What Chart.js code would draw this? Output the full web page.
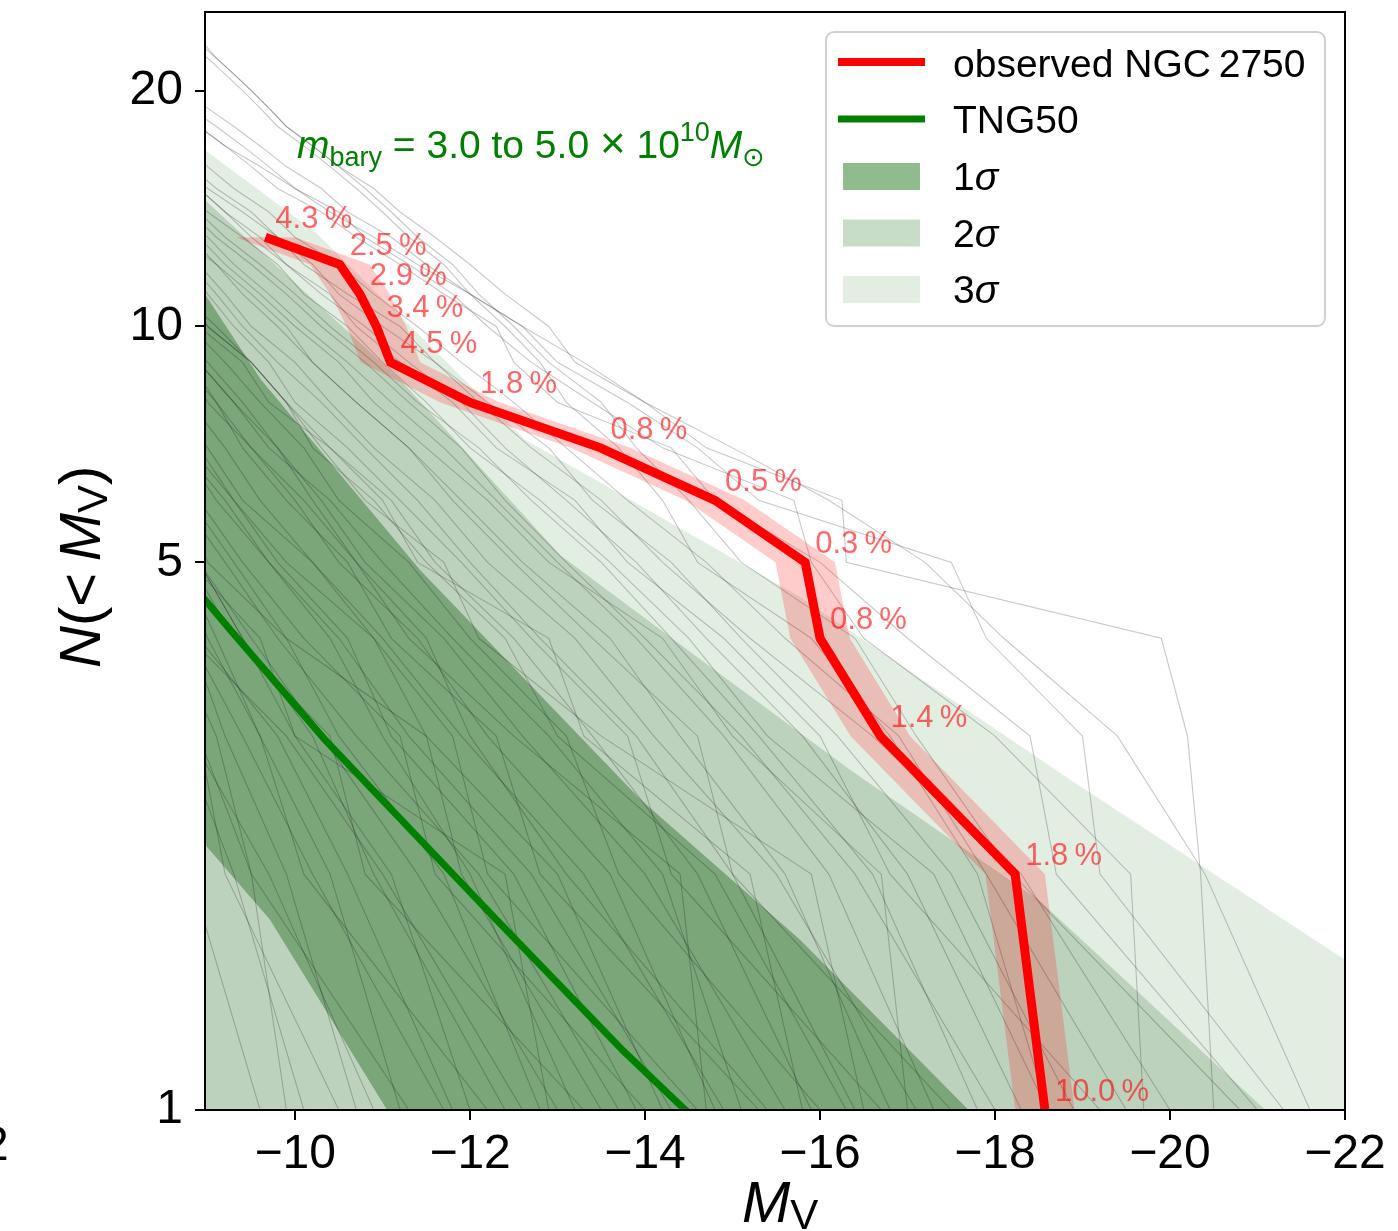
<!DOCTYPE html>
<html>
<head>
<meta charset="utf-8">
<script src="https://cdn.jsdelivr.net/npm/chart.js@4.4.1/dist/chart.umd.min.js"></script>
<style>
  html, body { margin: 0; padding: 0; background: #fff; }
  canvas { display: block; }
</style>
</head>
<body>
<canvas id="lf" width="1398" height="1231"></canvas>
<script>
// observed NGC 2750 satellites, brightest first (N = 1, 2, ...)
const obsMag = [-18.57, -18.23, -16.69, -16.0, -15.83, -14.8, -13.49, -12.0, -11.09, -10.93, -10.74, -10.51, -9.66];
const obsN = [1, 2, 3, 4, 5, 6, 7, 8, 9, 10, 11, 12, 13];
const obsPct = ['10.0', '1.8', '1.4', '0.8', '0.3', '0.5', '0.8', '1.8', '4.5', '3.4', '2.9', '2.5', '4.3'];
const obsMagErr = 0.34;

// TNG50 median
const tngMag = [-8.6, -8.97, -9.26, -10.34, -12.3, -13.75, -14.46, -14.8];
const tngN = [5.0, 4.48, 4.1, 2.97, 1.75, 1.19, 1.0, 0.93];

// percentile band edges
const sig1UpMag = [-8.0, -8.97, -9.61, -11.43, -13.29, -13.95, -15.77, -17.7, -23.0];
const sig1UpN = [14.5, 11.0, 8.56, 4.89, 2.97, 2.49, 1.65, 1.0, 0.35];
const sig1LoMag = [-8.0, -8.97, -9.71, -11.05, -12.0, -23.0];
const sig1LoN = [2.9, 2.18, 1.75, 1.0, 0.75, 0.1];
const sig2UpMag = [-8.0, -8.97, -11.2, -13.03, -14.63, -16.34, -18.51, -21.09, -23.0];
const sig2UpN = [17.0, 14.5, 8.56, 5.11, 3.76, 2.72, 1.85, 1.0, 0.7];
const sig2LoMag = [-8.0, -23.0];
const sig2LoN = [0.8, 0.05];
const sig3UpMag = [-8.0, -8.97, -10.23, -12.63, -15.77, -18.86, -22.0, -23.0];
const sig3UpN = [20.0, 16.8, 13.2, 7.17, 4.52, 2.64, 1.555, 1.4];
const sig3LoMag = [-8.0, -23.0];
const sig3LoN = [0.5, 0.02];

// simulated hosts: satellite magnitudes, brightest first
const simHosts = [
  [-9.6, -8.8],
  [-10.1, -9.3, -8.7],
  [-10.5, -9.2, -8.9],
  [-10.9, -9.7, -8.8],
  [-11.3, -9.5, -9.1, -8.6],
  [-9.9, -9.5, -8.9],
  [-11.7, -10.2, -9.4, -8.8],
  [-11.8, -10.6, -9.8, -8.9],
  [-12.2, -10.1, -9.6, -9.1, -8.7],
  [-12.6, -11.0, -9.9, -8.8],
  [-13.0, -11.4, -10.3, -9.5, -8.9],
  [-13.3, -10.8, -10.4, -9.3, -8.8],
  [-13.7, -12.1, -10.7, -9.8, -9.2, -8.7],
  [-14.0, -11.6, -11.2, -10.1, -9.4, -8.9],
  [-14.3, -12.7, -11.3, -10.5, -9.7, -9.1, -8.7],
  [-12.9, -12.4, -10.0, -9.6, -8.8],
  [-14.6, -12.2, -11.8, -10.9, -9.9, -9.3, -8.8],
  [-13.5, -11.9, -11.5, -9.9, -9.0, -8.7],
  [-14.9, -13.3, -11.9, -11.0, -10.2, -9.6, -9.2, -8.8],
  [-15.3, -12.8, -12.3, -11.1, -10.6, -9.9, -9.4, -9.1, -8.7],
  [-15.6, -14.0, -12.6, -11.7, -10.8, -10.3, -9.8, -9.3, -8.9],
  [-16.0, -13.7, -13.1, -12.0, -11.3, -10.5, -10.1, -9.6, -9.2, -8.8],
  [-16.3, -14.8, -13.0, -12.4, -11.5, -10.9, -10.2, -9.9, -9.5, -9.1, -8.7],
  [-16.7, -14.3, -13.8, -12.7, -11.9, -11.2, -10.6, -10.0, -9.7, -9.3, -9.0, -8.8],
  [-17.1, -15.5, -14.1, -13.2, -12.2, -11.6, -10.9, -10.4, -10.0, -9.5, -9.2, -8.9],
  [-17.5, -15.0, -14.6, -13.4, -12.5, -11.8, -11.3, -10.7, -10.2, -9.8, -9.4, -9.1, -8.7],
  [-15.8, -15.2, -13.3, -12.9, -11.4, -11.0, -10.4, -9.7, -9.4, -8.9],
  [-16.5, -15.9, -13.5, -12.1, -11.7, -10.8, -10.3, -9.9, -9.5, -9.0, -8.7],
  [-14.7, -14.4, -12.5, -11.3, -10.7, -10.1, -9.5, -9.0, -8.8],
  [-18.0, -16.4, -15.1, -14.0, -13.1, -12.4, -11.9, -11.3, -10.8, -10.3, -9.9, -9.5, -9.1, -8.8],
  [-18.6, -17.3, -15.4, -14.5, -13.6, -12.8, -12.0, -11.5, -11.0, -10.6, -10.1, -9.8, -9.4, -9.0, -8.7],
  [-19.2, -16.8, -16.0, -14.9, -13.8, -13.2, -12.3, -11.8, -11.2, -10.7, -10.4, -9.9, -9.6, -9.2, -8.9],
  [-20.0, -18.3, -16.6, -15.2, -14.2, -13.5, -12.7, -12.1, -11.6, -11.0, -10.5, -10.2, -9.8, -9.5, -9.1, -8.8],
  [-20.5, -20.35, -20.2, -19.9, -16.3, -16.25, -14.7, -14.0, -13.2, -12.9, -12.4, -12.0, -11.6, -11.2, -10.9, -10.5, -10.2, -9.9, -9.7, -9.5, -9.3, -9.1, -8.95, -8.8],
  [-21.3, -19.2, -19.0, -17.9, -17.5, -15.3, -14.6, -13.8, -13.0, -12.6, -12.0, -11.5, -11.1, -10.6, -10.3, -9.9, -9.6, -9.3, -9.0, -8.7],
  [-19.7, -19.55, -18.0, -16.5, -15.9, -15.7, -14.2, -13.4, -12.7, -12.2, -11.8, -11.3, -10.8, -10.5, -10.0, -9.7, -9.4, -9.1, -8.8],
  [-21.0, -18.7, -18.4, -17.0, -16.0, -14.8, -14.3, -13.0, -12.5, -12.3, -11.7, -11.2, -10.7, -10.3, -9.8, -9.5, -9.2, -8.9],
  [-18.6, -17.8, -16.8, -15.9, -14.6, -14.2, -13.7, -13.1, -12.8, -12.4, -12.0, -11.7, -11.3, -11.0, -10.7, -10.4, -10.1, -9.8, -9.6, -9.4, -9.2, -9.0, -8.8],
  [-20.8, -18.2, -17.1, -16.4, -15.1, -14.5, -13.9, -13.5, -12.9, -12.5, -12.1, -11.8, -11.4, -11.1, -10.8, -10.5, -10.2, -9.9, -9.7, -9.5, -9.3, -9.1, -8.9, -8.7],
  [-21.6, -20.4, -19.4, -18.1, -17.2, -16.1, -15.0, -14.0, -13.3, -12.6, -12.0, -11.4, -10.9, -10.4, -10.0, -9.6, -9.2, -8.9],
  [-12.0, -11.1, -10.0, -9.4, -8.9],
  [-12.8, -11.7, -10.5, -9.9, -9.3, -8.8],
  [-13.2, -12.0, -11.0, -10.4, -9.7, -9.2, -8.7],
  [-13.9, -12.5, -11.1, -10.6, -9.8, -9.3, -8.9],
  [-14.2, -13.0, -11.5, -10.9, -10.2, -9.4, -9.0, -8.7],
  [-14.8, -13.6, -12.2, -11.4, -10.5, -10.0, -9.5, -9.1, -8.8],
  [-15.1, -14.2, -12.9, -11.8, -11.0, -10.4, -9.7, -9.3, -8.9],
  [-15.4, -13.1, -12.0, -11.5, -10.7, -10.2, -9.8, -9.4, -9.0, -8.7],
  [-15.9, -14.6, -13.4, -12.5, -11.6, -11.1, -10.4, -9.9, -9.5, -9.0, -8.8],
  [-16.4, -15.0, -13.9, -12.8, -12.0, -11.4, -10.8, -10.3, -9.8, -9.4, -9.1, -8.8],
  [-16.8, -15.6, -14.4, -13.6, -12.6, -11.9, -11.3, -10.7, -10.2, -9.9, -9.5, -9.1, -8.8],
  [-17.3, -16.1, -14.9, -13.9, -13.0, -12.3, -11.7, -11.1, -10.6, -10.1, -9.7, -9.3, -9.0, -8.7],
  [-17.8, -16.6, -15.3, -14.3, -13.5, -12.7, -12.1, -11.4, -10.9, -10.4, -10.0, -9.6, -9.2, -8.9],
  [-18.3, -17.0, -15.8, -14.7, -13.9, -13.1, -12.4, -11.9, -11.3, -10.8, -10.3, -9.9, -9.5, -9.2, -8.9],
  [-18.9, -17.5, -16.2, -15.1, -14.3, -13.4, -12.9, -12.2, -11.6, -11.2, -10.6, -10.1, -9.8, -9.4, -9.0, -8.7],
  [-11.2, -10.4, -9.6, -9.0, -8.7],
  [-12.4, -10.9, -10.2, -9.4, -8.9],
  [-10.7, -9.9, -9.2, -8.8],
  [-19.5, -17.9, -16.9, -15.6, -14.7, -13.8, -13.1, -12.5, -11.9, -11.4, -10.9, -10.5, -10.0, -9.7, -9.3, -9.0, -8.8],
  [-17.0, -16.7, -15.0, -14.2, -12.9, -12.2, -11.5, -10.9, -10.5, -10.0, -9.6, -9.2, -8.9]
];

const xTicks = [-10, -12, -14, -16, -18, -20, -22];
const yTicks = [1, 5, 10, 20];

const FONT = '"Liberation Sans", "DejaVu Sans", Arial, sans-serif';
// colores de la leyenda
const BAND1 = 'rgba(0, 100, 0, 0.44)';
const BAND2 = 'rgba(0, 100, 0, 0.22)';
const BAND3 = 'rgba(0, 100, 0, 0.11)';
// en el grafico, un poco mas oscuros (compensa la trama densa de curvas grises)
const FILL1 = 'rgba(0, 85, 0, 0.52)';
const FILL2 = 'rgba(0, 80, 0, 0.26)';
const FILL3 = 'rgba(0, 100, 0, 0.11)';

function pts(xs, ys) {
  return xs.map((x, i) => ({ x: x, y: ys[i] }));
}

// banda de error horizontal de la curva observada
const last = obsMag.length - 1;
const errA = obsMag.map((m, i) => ({ x: m - obsMagErr, y: obsN[i] }))
  .concat([{ x: obsMag[last] + obsMagErr, y: obsN[last] }]);
const errB = [{ x: obsMag[0] - obsMagErr, y: obsN[0] }]
  .concat(obsMag.map((m, i) => ({ x: m + obsMagErr, y: obsN[i] })));

const base = { pointRadius: 0, pointHoverRadius: 0, pointHitRadius: 0, tension: 0 };
const hidden = 'rgba(0,0,0,0)';

const datasets = [];
datasets.push(Object.assign({ data: pts(obsMag, obsN), borderColor: 'rgb(255,0,0)', borderWidth: 9, borderJoinStyle: 'miter', fill: false, order: 10 }, base));
datasets.push(Object.assign({ data: pts(tngMag, tngN), borderColor: 'rgb(0,128,0)', borderWidth: 7, fill: false, order: 20 }, base));
datasets.push(Object.assign({ data: errA, borderWidth: 0, borderColor: hidden, backgroundColor: 'rgba(255,0,0,0.2)', fill: '+1', order: 30 }, base));
datasets.push(Object.assign({ data: errB, borderWidth: 0, borderColor: hidden, fill: false, order: 30 }, base));
simHosts.forEach(mags => {
  datasets.push(Object.assign({
    data: mags.map((m, i) => ({ x: m, y: i + 1 })),
    borderColor: 'rgba(0,0,0,0.22)', borderWidth: 1.1, fill: false, order: 40
  }, base));
});

// cada franja se rellena solo entre sus dos bordes (sin solaparse)
const sig1Up = pts(sig1UpMag, sig1UpN), sig1Lo = pts(sig1LoMag, sig1LoN);
const sig2Up = pts(sig2UpMag, sig2UpN), sig2Lo = pts(sig2LoMag, sig2LoN);
const sig3Up = pts(sig3UpMag, sig3UpN), sig3Lo = pts(sig3LoMag, sig3LoN);
[[sig1Up, sig1Lo, FILL1],
 [sig2Up, sig1Up, FILL2], [sig1Lo, sig2Lo, FILL2],
 [sig3Up, sig2Up, FILL3], [sig2Lo, sig3Lo, FILL3]].forEach(b => {
  datasets.push(Object.assign({ data: b[0], borderWidth: 0, borderColor: hidden, backgroundColor: b[2], fill: '+1', order: 50 }, base));
  datasets.push(Object.assign({ data: b[1], borderWidth: 0, borderColor: hidden, fill: false, order: 50 }, base));
});

// texto con partes en cursiva / subindice
function drawRuns(ctx, x, y, runs) {
  runs.forEach(r => {
    ctx.font = (r.italic ? 'italic ' : '') + r.size + 'px ' + FONT;
    ctx.fillText(r.t, x, y + (r.dy || 0));
    x += ctx.measureText(r.t).width;
  });
  return x;
}

const decor = {
  id: 'decor',
  afterDatasetsDraw(chart) {
    const ctx = chart.ctx;
    const a = chart.chartArea;
    const xs = chart.scales.x, ys = chart.scales.y;
    ctx.save();

    // etiquetas de porcentaje
    ctx.fillStyle = 'rgba(255,0,0,0.6)';
    ctx.font = '31px ' + FONT;
    ctx.textAlign = 'left';
    ctx.textBaseline = 'alphabetic';
    obsMag.forEach((m, i) => {
      ctx.fillText(obsPct[i] + '\u2009%', xs.getPixelForValue(m) + 10, ys.getPixelForValue(obsN[i]) - 9);
    });

    // marco
    ctx.strokeStyle = '#000';
    ctx.lineWidth = 2;
    ctx.strokeRect(a.left, a.top, a.right - a.left, a.bottom - a.top);

    // anotacion de masa
    ctx.fillStyle = 'rgb(0,128,0)';
    drawRuns(ctx, 297, 158, [
      { t: 'm', size: 39, italic: true },
      { t: 'bary', size: 27, dy: 8 },
      { t: ' = 3.0 to 5.0 ', size: 39 },
      { t: '\u00d7', size: 44 },
      { t: ' 10', size: 39 },
      { t: '10', size: 27, dy: -17 },
      { t: 'M', size: 39, italic: true },
      { t: '\u2299', size: 27, dy: 8 }
    ]);

    // leyenda
    ctx.beginPath();
    ctx.roundRect(826, 32, 499, 294, 8);
    ctx.fillStyle = 'rgba(255,255,255,0.8)';
    ctx.fill();
    ctx.strokeStyle = '#d0d0d0';
    ctx.lineWidth = 2;
    ctx.stroke();
    ctx.lineCap = 'butt';
    ctx.strokeStyle = 'rgb(255,0,0)';
    ctx.lineWidth = 8;
    ctx.beginPath(); ctx.moveTo(838, 62); ctx.lineTo(925, 62); ctx.stroke();
    ctx.strokeStyle = 'rgb(0,128,0)';
    ctx.lineWidth = 7;
    ctx.beginPath(); ctx.moveTo(838, 119); ctx.lineTo(925, 119); ctx.stroke();
    [BAND1, BAND2, BAND3].forEach((c, i) => {
      ctx.fillStyle = c;
      ctx.fillRect(843, 163 + i * 56.5, 77, 27);
    });
    ctx.fillStyle = '#000';
    ctx.font = '39px ' + FONT;
    ctx.fillText('observed NGC\u20092750', 953, 77);
    ctx.fillText('TNG50', 953, 133);
    ['1', '2', '3'].forEach((s, i) => {
      drawRuns(ctx, 953, 190 + i * 56.5, [{ t: s, size: 39 }, { t: '\u03c3', size: 39, italic: true }]);
    });

    // titulos de ejes
    drawRuns(ctx, 742, 1222, [{ t: 'M', size: 58, italic: true }, { t: 'V', size: 42, dy: 7 }]);
    ctx.save();
    ctx.translate(100, 668);
    ctx.rotate(-Math.PI / 2);
    drawRuns(ctx, 0, 0, [
      { t: 'N', size: 58, italic: true },
      { t: '(<\u2009', size: 58 },
      { t: 'M', size: 58, italic: true },
      { t: 'V', size: 42, dy: 7 },
      { t: ')', size: 58 }
    ]);
    ctx.restore();

    // resto de un panel vecino en el borde izquierdo
    ctx.font = '48px ' + FONT;
    ctx.fillText('2', -18, 1160);
    ctx.restore();
  }
};

function axisStyle() {
  return {
    grid: { drawOnChartArea: false, drawTicks: true, tickLength: 10, color: '#000', lineWidth: 2 },
    border: { display: true, color: '#000', width: 2 }
  };
}

new Chart(document.getElementById('lf'), {
  type: 'line',
  data: { datasets: datasets },
  plugins: [decor],
  options: {
    responsive: false,
    animation: false,
    events: [],
    layout: { padding: { top: 12, right: 53, left: 0, bottom: 0 } },
    plugins: { legend: { display: false }, tooltip: { enabled: false } },
    scales: {
      x: Object.assign({
        type: 'linear',
        reverse: true,
        min: -22,
        max: -8.97,
        afterFit: s => { s.height = 121; s.paddingLeft = 0; s.paddingRight = 0; },
        afterBuildTicks: s => { s.ticks = xTicks.map(v => ({ value: v })); },
        ticks: {
          color: '#000', padding: 6, maxRotation: 0, autoSkip: false,
          font: { family: FONT, size: 48 },
          callback: v => (v < 0 ? '\u2212' + Math.abs(v) : String(v))
        }
      }, axisStyle()),
      y: Object.assign({
        type: 'logarithmic',
        min: 1,
        max: 25.2,
        afterFit: s => { s.width = 205; s.paddingTop = 0; s.paddingBottom = 0; },
        afterBuildTicks: s => { s.ticks = yTicks.map(v => ({ value: v })); },
        ticks: {
          color: '#000', padding: 12, autoSkip: false,
          font: { family: FONT, size: 48 },
          callback: v => String(v)
        }
      }, axisStyle())
    }
  }
});
</script>
</body>
</html>
